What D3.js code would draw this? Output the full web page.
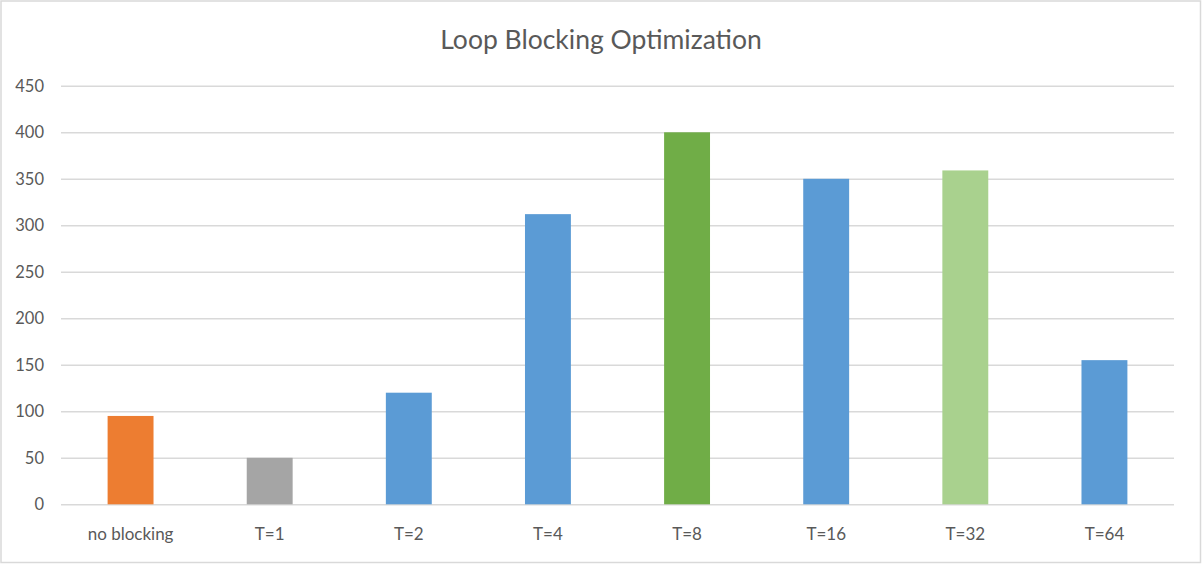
<!DOCTYPE html>
<html><head><meta charset="utf-8">
<script src="https://cdn.jsdelivr.net/npm/d3@7"></script>
<style>
html,body{margin:0;padding:0;background:#fff;}
svg{display:block;}
</style></head>
<body>
<script>
const categories = ["no blocking","T=1","T=2","T=4","T=8","T=16","T=32","T=64"];
const values = [95, 50, 120, 312, 400, 350, 359, 155];
const barColors = ["#ED7D31","#A5A5A5","#5B9BD5","#5B9BD5","#70AD47","#5B9BD5","#A9D18E","#5B9BD5"];
const yTicks = [0,50,100,150,200,250,300,350,400,450];
const title = "Loop Blocking Optimization";

const W = 1202, H = 564;
const svg = d3.select("body").append("svg").attr("width", W).attr("height", H);
svg.append("rect").attr("x",1).attr("y",1).attr("width",W-2.5).attr("height",H-2.5)
  .attr("fill","#fff").attr("stroke","#d9d9d9").attr("stroke-width",1.5);

const x = d3.scaleBand().domain(categories).range([61, 1174]).paddingInner(0.67).paddingOuter(0.335);
const y = d3.scaleLinear().domain([0,450]).range([504.3, 85.8]);

const font = "Lato, 'Open Sans', sans-serif";

svg.append("text").attr("x", 601).attr("y", 49).attr("text-anchor","middle")
  .attr("font-family", font).attr("font-size", 26.5).attr("fill","#595959").text(title);

const gy = svg.append("g").attr("transform","translate(61,0)")
  .call(d3.axisLeft(y).tickValues(yTicks).tickSize(-(1174-61)).tickPadding(17));
gy.select(".domain").remove();
gy.selectAll(".tick line").attr("stroke","#d9d9d9").attr("stroke-width",1.5);
gy.selectAll(".tick text").attr("font-family", font).attr("font-size",16.5).attr("fill","#595959");

svg.append("g").selectAll("rect").data(values).join("rect")
  .attr("x",(d,i)=>x(categories[i]))
  .attr("width", x.bandwidth())
  .attr("y", d=>y(d))
  .attr("height", d=>y(0)-y(d))
  .attr("fill",(d,i)=>barColors[i]);

const gx = svg.append("g").attr("transform",`translate(0,${y(0)})`)
  .call(d3.axisBottom(x).tickSize(0).tickPadding(24));
gx.select(".domain").remove();
gx.selectAll(".tick text").attr("font-family", font).attr("font-size",17).attr("fill","#595959");
</script>
</body></html>
